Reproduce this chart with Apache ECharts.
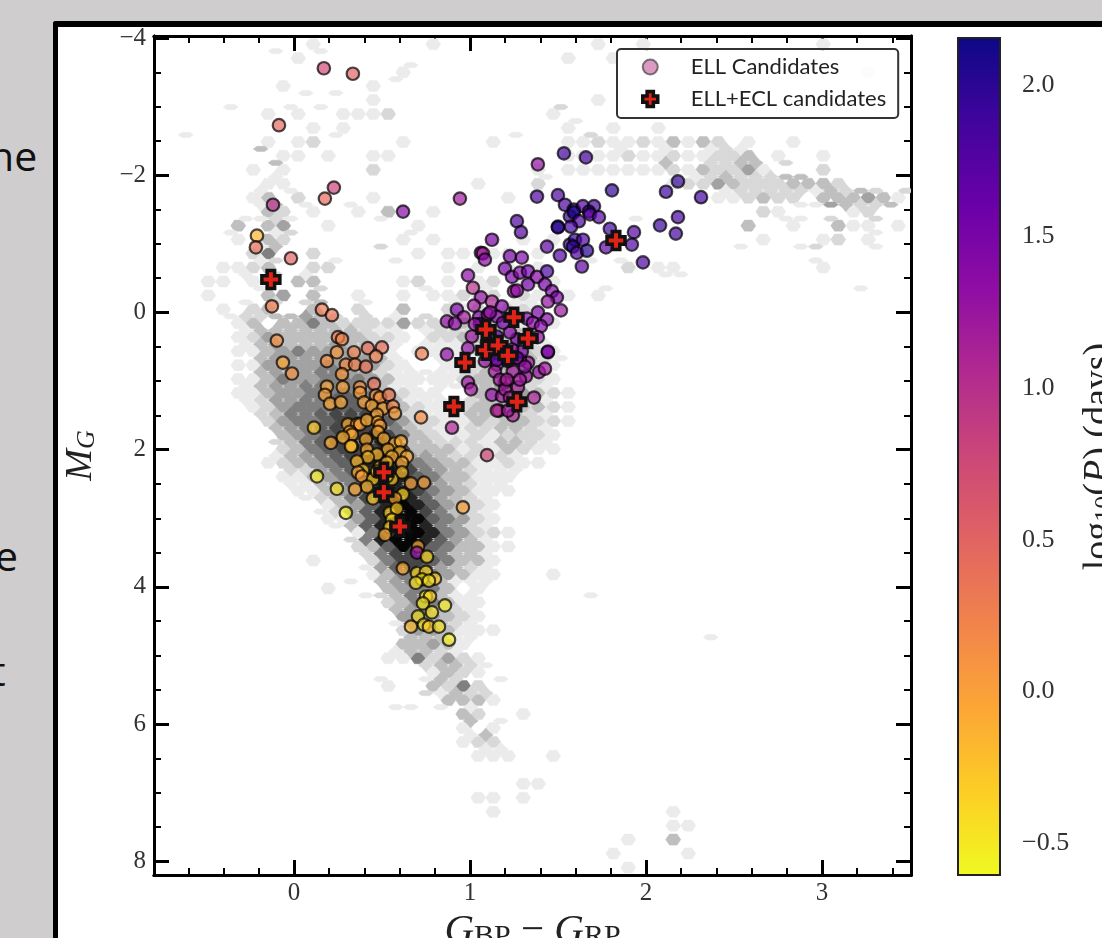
<!DOCTYPE html>
<html><head><meta charset="utf-8">
<style>
html,body{margin:0;padding:0;width:1102px;height:938px;overflow:hidden;background:#cfcdcd;}
#frame{position:absolute;left:53px;top:21px;width:1060px;height:930px;background:#fff;border-left:5px solid #000;border-top:6px solid #000;border-top-left-radius:3px;box-sizing:border-box;}
#main{position:absolute;left:0;top:0;width:1102px;height:938px;filter:blur(0.5px);}
.slide{position:absolute;font-family:"Open Sans",sans-serif;font-size:41px;color:#111;line-height:1;white-space:nowrap;}
</style></head>
<body>
<div id="frame"></div>
<div class="slide" style="left:-11px;top:135px;">ne</div>
<div class="slide" style="left:-5px;top:535px;">e</div>
<div class="slide" style="left:-9px;top:650px;">t</div>
<div id="main"></div>
<script src="https://cdn.jsdelivr.net/npm/echarts@6/dist/echarts.min.js"></script>
<script>
// ---- axis ticks
const xMajorTicks=[0,1,2,3];
const xMinorTicks=[-0.6,-0.4,-0.2,0.2,0.4,0.6,0.8,1.2,1.4,1.6,1.8,2.2,2.4,2.6,2.8,3.2,3.4];
const yMajorTicks=[-4,-2,0,2,4,6,8];
const yMinorTicks=[-3.5,-3,-2.5,-1.5,-1,-0.5,0.5,1,1.5,2.5,3,3.5,4.5,5,5.5,6.5,7,7.5];
const colorbarTicks=[-0.5,0,0.5,1,1.5,2];
// ---- plasma_r stops, low period to high period
const plasmaStops=['#f0f921','#fcce25','#fca636','#f1844b','#e16462','#cc4778','#b12a90','#8f0da4','#6a00a8','#41049d','#0d0887'];
// ---- density background: hexbin lattice, "column:levels" per row (level 1-9)
const hexOrigin=[-0.7426,-3.91];
const hexStep=[0.08523,0.2034];
const hexMainRows=[
"10:1 18:1 29:1 32:1 44:1","9:1 27:1 30:1","16:1 47:1","8:1 14:1","14:1 29:1",
"7:1 9:1 12:1112 26:1","10:1 12:1 27:1 30:1 33:1","7:1 9:12 16:1 22:1 27:11 29:21 31:1213 35:1 36:32 39:1 42:1",
"8:11 11:1 14:11 27:1111 31:2 32:11 34:2112 38:23 41:1 44:1",
"6:1 8:1 14:2 25:1 27:11 29:1 30:1 31:1 32:1 33:1 34:21 36:3224 40:1 44:2",
"7:11 21:1 25:2 34:122432223332",
"6:1 7:3 9:2 14:1 23:1 37:1123220333431",
"7:32 10:1 13:1 15:3 18:1 40:21 46:12",
"5:3 7:34 11:1 17:1 39:3 42:1 45:311 49:1",
"5:1 7:32 16:1 18:1 22:1 24:1 26:1 40:1 44:12 47:1",
"6:25 10:2 17:1 19:11 22:11 25:1 28:1",
"4:11 6:23 10:22 19:1 21:1 23:1 25:1 31:2 33:11 44:1",
"3:11 6:1 9:33 16:12 19:1 21:12 24:11 26:1",
"3:1 7:34 10:3 13:1 16:1 18:11 20:21 22:2 24:21 27:1 29:1",
"4:1 6:23 10:3 13:2 16:3 19:2 20:1 21:2 22:1 23:2 24:2 25:1",
"5:1 6:3033532222422233321 26:1",
"5:1 6:24333343221022332321",
"5:1 6:134544433101111334321",
"5:1 6:144445444210011234321",
"5:1 6:135445554311112333321",
"5:1 6:1344556554211003334321",
"6:1245556665321123333321",
"7:245567766422113233221",
"8:3456778753211212221",
"8:2356777873331213211",
"7:1234567887543311211",
"8:1134568886533111",
"9:113457887543111",
"11:134689864321",
"11:114689965421",
"13:15799854221",
"13:23698653311",
"10:1 14:257765331",
"14:135654311 26:1",
"11:1 15:3455301",
"15:2355311",
"16:454321",
"16:2443111",
"16:33431",
"15:1152421",
"18:1321",
"15:1 18:3252",
"19:3331",
"20:32 24:1",
"20:1 22:1",
"20:122",
"21:111 26:1",
"","24:11","21:11 24:1","22:1 34:1","34:11","31:1 34:3","30:1 35:1","31:1"];
const hexOffsetRows=[
"7:1 10:1","16:1","15:1","9:1 11:1","4:1 8:1 10:1 26:2","27:1","1:1 11:1 23:1 28:2",
"6:3 30:1 33:1 36:1 37:2 38:1",
"7:3 33:3 36:2 37:2 38:3 39:3 41:2",
"7:1 25:1 35:1 36:2 37:3 38:2 39:2 40:2 41:3 42:3",
"6:1 8:1 37:1 38:2 39:2 40:2 41:2 42:2 43:1 44:3 45:2 46:3 47:2 49:2",
"6:1 7:3 9:1 12:1 42:1 43:1 44:4 45:3 46:2 47:2 48:3",
"5:1 6:1 7:2 8:1 14:1 31:1 41:1 42:1 44:2 47:2",
"4:1 7:1 8:2 16:1 47:1",
"6:1 7:3 14:2 38:1 42:1 43:2 47:1",
"6:1 7:2 11:1 15:1 28:1 30:1 43:1",
"5:1 7:2 9:1 33:1 34:1",
"6:1 10:2 17:1 21:1 29:1 46:1",
"5:1 7:2 9:2 10:3 13:1 19:1 23:1 24:1",
"4:12233432 13:2 15:1 17:2 19:2 21:323",
"5:13333333211012223332",
"5:134333433210111233321",
"6:344444443100111333321",
"6:34445544211111233331",
"5:134455554311011234321",
"5:124455665531111233321",
"6:23556777642111333321",
"7:3456777753211223321",
"7:2356778863322213321",
"7:13456788744322221",
"8:2245678875432111",
"8:113457887643211",
"9:1235789864321",
"10:124689975321",
"11:13689985421",
"12:2589986431",
"13:257765331",
"13:146764321",
"12:1 14:34553111",
"13:1 14:2354311 28:1",
"15:345321",
"15:144321",
"16:33311 36:1",
"15:13321",
"17:23321",
"14:1 17:132 22:1",
"17:2 18:1 19:322",
"15:11 18:1 20:1",
"20:3 22:1",
"20:1 21:3",
"21:1 22:1"];
const hexGreys=['#ffffff','#ebebeb','#d8d8d8','#bfbfbf','#a2a2a2','#808080','#626262','#464646','#242424','#060606'];
// ---- ELL candidates: [G_BP-G_RP, M_G, log10 P]
const ellUpper=[[0.17,-3.56,0.75],[0.335,-3.48,0.5],[-0.085,-2.73,0.45],[0.227,-1.82,0.8],[0.176,-1.66,0.45],[-0.119,-1.57,1.0],[0.62,-1.47,1.4],[0.943,-1.66,1.2],[-0.21,-1.12,-0.15],[-0.216,-0.95,0.4],[-0.017,-0.79,0.5],[-0.125,-0.09,0.25],[0.159,-0.04,0.3],[0.216,0.04,0.35]];
const ellGiant=[[1.534,-2.32,1.85],[1.659,-2.26,1.85],[1.386,-2.16,1.3],[1.807,-1.78,1.95],[2.114,-1.76,1.9],[2.182,-1.91,1.95],[2.313,-1.68,1.85],[1.381,-1.69,1.8],[1.5,-1.71,1.8],[1.54,-1.57,1.8],[1.59,-1.5,2.0],[1.642,-1.55,1.75],[1.705,-1.55,1.85],[1.676,-1.47,1.95],[1.568,-1.4,1.9],[1.59,-1.46,2.05],[1.619,-1.33,1.8],[1.682,-1.43,1.7],[1.733,-1.39,1.75],[2.182,-1.39,1.85],[2.08,-1.27,1.9],[2.17,-1.15,1.85],[1.267,-1.33,1.8],[1.29,-1.17,1.75],[1.5,-1.25,2.0],[1.5,-1.24,2.0],[1.574,-1.25,1.85],[1.795,-1.22,1.85],[1.932,-1.17,1.75],[1.92,-0.99,1.8],[1.773,-0.95,1.7],[1.438,-0.96,1.7],[1.568,-0.99,1.9],[1.597,-1.06,1.95],[1.642,-1.06,1.8],[1.585,-0.96,2.0],[1.608,-0.87,1.75],[1.665,-0.9,2.0],[1.511,-0.83,1.75],[1.983,-0.73,1.8],[1.636,-0.67,1.7]];
const ellClump=[[1.125,-1.06,1.45],[1.0625,-0.87,1.3],[1.074,-0.86,1.15],[1.085,-0.77,1.35],[1.227,-0.82,1.5],[1.295,-0.8,1.45],[1.199,-0.64,1.5],[1.239,-0.52,1.5],[1.284,-0.58,1.4],[1.33,-0.6,1.55],[1.381,-0.52,1.35],[1.438,-0.6,1.8],[0.989,-0.54,1.35],[1.017,-0.36,1.0],[1.33,-0.41,1.55],[1.25,-0.31,1.2],[1.267,-0.32,1.35],[1.426,-0.41,1.5],[1.466,-0.31,1.45],[1.494,-0.22,1.5],[1.443,-0.16,1.3],[1.517,-0.03,1.25],[1.0625,-0.22,1.3],[1.125,-0.16,1.1],[1.182,-0.09,1.4],[1.023,-0.1,1.2],[0.926,-0.04,1.5],[0.966,0.07,1.2],[0.869,0.13,1.3],[0.915,0.16,1.35],[1.386,0,1.45],[1.438,0.1,1.4],[1.324,0.09,1.5],[1.358,0.15,1.3],[1.403,0.2,1.4],[1.051,0.07,1.5],[1.102,0.03,1.2],[1.153,0.06,1.4],[0.989,0.52,1.3],[0.869,0.61,1.35],[1.011,0.35,1.25],[1.057,0.17,1.5],[1.114,0,1.35],[1.443,0.58,1.6],[1.443,0.57,1.4],[1.386,0.36,1.3],[0.989,1.02,1.25],[1.006,1.12,1.2],[1.125,1.2,1.3],[1.364,1.24,1.15],[1.392,0.87,1.3],[1.426,0.82,1.2],[1.182,1.22,1.2],[1.165,1.43,0.9],[1.153,1.43,1.1],[1.244,1.5,1.1],[0.898,1.68,1.1],[1.216,1.43,1.2],[1.199,1.02,1.25],[1.273,1.09,1.15],[1.318,0.93,1.25],[1.33,0.73,1.2],[1.284,0.69,1.2],[1.244,0.86,1.2],[1.153,0.76,1.25],[1.142,0.86,1.2],[1.17,0.98,1.2],[1.199,1.12,1.2],[1.267,0.39,1.5],[1.295,0.57,1.5],[1.227,0.29,1.4],[1.188,0.15,1.55],[1.153,0.35,1.6],[1.125,0.57,1.6],[1.085,0.71,1.3],[1.216,0.71,1.9],[1.153,0.69,1.7],[1.267,0.66,1.6],[1.028,0.17,1.3],[1.097,0.44,1.6],[1.239,0.54,1.3],[1.313,0.79,1.3],[1.21,0.98,1.15],[1.284,0.98,1.2],[1.227,1.24,1.1],[1.097,2.08,0.75]];
const ellTurnoff=[[-0.097,0.41,0.1],[0.25,0.36,0.3],[0.273,0.39,0.2],[0.244,0.58,0.05],[0.341,0.58,0.25],[0.42,0.52,0.4],[0.5,0.51,0.4],[0.727,0.6,0.3],[0.1875,0.71,0.1],[0.295,0.76,0.2],[0.347,0.76,0.25],[0.409,0.79,0.35],[0.466,0.64,0.25],[-0.0625,0.73,-0.05],[-0.011,0.89,0.1],[0.273,0.9,0.05],[0.455,1.04,0.4],[0.1875,1.08,-0.05],[0.278,1.09,0],[0.375,1.09,0.15],[0.375,1.17,0],[0.176,1.2,0],[0.205,1.33,-0.05],[0.267,1.31,-0.05],[0.466,1.21,0.1],[0.489,1.24,0.1],[0.54,1.2,0.3],[0.398,1.31,0],[0.443,1.36,-0.05],[0.506,1.4,-0.05],[0.5625,1.37,0.2],[0.574,1.47,0],[0.472,1.49,-0.05],[0.722,1.53,0.15],[0.96,2.84,0]];
const ellMainSeq=[[0.114,1.68,-0.3],[0.21,1.9,-0.05],[0.307,1.63,-0.1],[0.358,1.63,0],[0.375,1.63,0],[0.415,1.57,-0.1],[0.477,1.6,-0.05],[0.489,1.65,0],[0.477,1.74,-0.1],[0.318,1.74,-0.1],[0.33,1.78,-0.05],[0.278,1.82,-0.15],[0.33,1.95,-0.25],[0.324,1.95,-0.2],[0.409,1.85,-0.1],[0.415,2.0,-0.1],[0.511,1.84,-0.1],[0.574,1.91,-0.1],[0.608,1.88,-0.1],[0.534,2.0,-0.15],[0.602,2.04,-0.15],[0.642,2.1,-0.1],[0.557,2.1,-0.1],[0.472,2.07,-0.2],[0.42,2.11,-0.2],[0.358,2.17,-0.2],[0.614,2.19,-0.05],[0.392,2.3,-0.25],[0.364,2.33,-0.1],[0.386,2.39,0],[0.614,2.33,-0.2],[0.449,2.43,-0.3],[0.415,2.54,-0.15],[0.557,2.43,-0.3],[0.665,2.49,0],[0.739,2.48,0],[0.131,2.39,-0.5],[0.244,2.57,-0.45],[0.347,2.58,-0.05],[0.449,2.71,-0.3],[0.619,2.65,-0.35],[0.574,2.71,-0.05],[0.295,2.92,-0.55],[0.545,2.92,-0.35],[0.585,2.86,-0.3],[0.557,3.02,-0.35],[0.545,3.13,-0.35],[0.517,3.24,-0.1],[0.489,2.25,-0.2],[0.528,2.19,-0.2],[0.472,2.32,-0.3],[0.528,2.39,-0.3]];
const ellLower=[[0.705,3.41,-0.1],[0.699,3.5,1.3],[0.756,3.56,-0.4],[0.619,3.73,-0.1],[0.699,3.8,-0.4],[0.75,3.78,-0.4],[0.727,3.89,-0.4],[0.801,3.88,-0.3],[0.693,3.94,-0.45],[0.767,3.91,-0.45],[0.75,4.14,-0.5],[0.773,4.14,-0.35],[0.733,4.24,-0.5],[0.858,4.27,-0.5],[0.784,4.37,-0.45],[0.705,4.43,-0.45],[0.665,4.58,-0.2],[0.739,4.55,-0.45],[0.767,4.58,-0.3],[0.824,4.58,-0.45],[0.881,4.77,-0.55]];
// ---- ELL+ECL candidates: [G_BP-G_RP, M_G]
const ellEclCandidates=[[-0.131,-0.48],[1.83,-1.05],[1.091,0.25],[1.25,0.07],[1.33,0.38],[1.091,0.55],[1.159,0.48],[1.216,0.63],[0.972,0.73],[1.267,1.3],[0.909,1.37],[0.511,2.33],[0.511,2.62],[0.602,3.12]];

// ---- decode lattice rows
function parseRow(s){const out=[];if(!s)return out;s.split(' ').forEach(seg=>{const p=seg.split(':');const c=+p[0];[...p[1]].forEach((d,n)=>{if(+d>0)out.push([c+n,+d]);});});return out;}
const mainKeys=new Set();const hexData=[];
hexMainRows.forEach((s,r)=>parseRow(s).forEach(([c,l])=>{mainKeys.add(c+'_'+r);hexData.push([hexOrigin[0]+c*hexStep[0],hexOrigin[1]+r*hexStep[1],l,0]);}));
hexOffsetRows.forEach((s,r)=>parseRow(s).forEach(([c,l])=>{
  const n=['_'+r,'_'+(r+1)].reduce((a,t)=>a+(mainKeys.has(c+t)?1:0)+(mainKeys.has((c+1)+t)?1:0),0);
  hexData.push([hexOrigin[0]+(c+0.5)*hexStep[0],hexOrigin[1]+(r+0.5)*hexStep[1],l,n>=3?2:1]);
}));
function hexShape(kind,sx,sy){
  if(kind===0)return [[-.5*sx,0],[-.25*sx,-.395*sy],[.25*sx,-.395*sy],[.5*sx,0],[.25*sx,.395*sy],[-.25*sx,.395*sy]];
  if(kind===1)return [[-.5*sx,0],[-.25*sx,-.19*sy],[.25*sx,-.19*sy],[.5*sx,0],[.25*sx,.19*sy],[-.25*sx,.19*sy]];
  return [[-.5*sx,0],[-.25*sx,-.19*sy],[0,-.5*sy],[.25*sx,-.19*sy],[.5*sx,0],[.25*sx,.19*sy],[0,.5*sy],[-.25*sx,.19*sy]];
}
const SERIF='"Liberation Serif",serif';
const SANS='Lato,"Open Sans",sans-serif';
const plusPath='path://M3.5,0H8.5V3.5H12V8.5H8.5V12H3.5V8.5H0V3.5H3.5Z';
const minus=v=>String(v).replace('-','\u2212');
const chart=echarts.init(document.getElementById('main'),null,{renderer:'canvas',width:1102,height:938});
function xAxis(pos,vals,len,lw,labels,name){return {type:'value',gridIndex:0,position:pos,min:-0.795,max:3.506,
  splitLine:{show:false},axisLine:{show:true,onZero:false,lineStyle:{color:'#000',width:3}},
  axisTick:{show:true,inside:true,length:len,customValues:vals,lineStyle:{color:'#000',width:lw}},
  axisLabel:labels?{show:true,customValues:xMajorTicks,margin:6,fontFamily:SERIF,fontSize:25,color:'#333',formatter:minus}:{show:false},
  ...(name||{})};}
function yAxis(pos,vals,len,lw,labels,name){return {type:'value',gridIndex:0,position:pos,inverse:true,min:-4.03,max:8.2,
  splitLine:{show:false},axisLine:{show:true,onZero:false,lineStyle:{color:'#000',width:3}},
  axisTick:{show:true,inside:true,length:len,customValues:vals,lineStyle:{color:'#000',width:lw}},
  axisLabel:labels?{show:true,customValues:yMajorTicks,margin:8,fontFamily:SERIF,fontSize:25,color:'#333',formatter:minus}:{show:false},
  ...(name||{})};}
const allEll=[].concat(ellUpper,ellGiant,ellClump,ellTurnoff,ellMainSeq,ellLower);
chart.setOption({
  animation:false,backgroundColor:'transparent',
  grid:[{left:154,top:36,width:757,height:839,outerBoundsMode:'none'},{left:958,top:38,width:42,height:837,outerBoundsMode:'none'}],
  xAxis:[
    xAxis('bottom',xMajorTicks,15,3,true,{name:'{i|G}{s|BP}{o| \u2212 }{i|G}{s|RP}',nameLocation:'middle',nameGap:30,
      nameTextStyle:{rich:{i:{fontFamily:SERIF,fontStyle:'italic',fontSize:41,color:'#222'},s:{fontFamily:SERIF,fontSize:30,color:'#222',verticalAlign:'bottom',padding:[12,0,0,0]},o:{fontFamily:SERIF,fontSize:41,color:'#222'}}}}),
    xAxis('bottom',xMinorTicks,7,2,false),
    xAxis('top',xMajorTicks,15,3,false),
    xAxis('top',xMinorTicks,7,2,false),
    {type:'value',gridIndex:1,min:0,max:1,show:false}
  ],
  yAxis:[
    yAxis('left',yMajorTicks,15,3,true,{name:'{i|M}{s|G}',nameLocation:'middle',nameGap:68,nameRotate:90,
      nameTextStyle:{padding:[0,0,-14,0],rich:{i:{fontFamily:SERIF,fontStyle:'italic',fontSize:38,color:'#222'},s:{fontFamily:SERIF,fontStyle:'italic',fontSize:26,color:'#222',padding:[12,0,0,0]}}}}),
    yAxis('left',yMinorTicks,7,2,false),
    yAxis('right',yMajorTicks,15,3,false),
    yAxis('right',yMinorTicks,7,2,false),
    {type:'value',gridIndex:1,position:'right',min:-0.605,max:2.155,splitLine:{show:false},
      axisLine:{show:false},
      axisTick:{show:true,inside:false,length:15,customValues:colorbarTicks,lineStyle:{color:'#000',width:3}},
      axisLabel:{show:true,customValues:colorbarTicks,margin:22,fontFamily:SERIF,fontSize:26,color:'#333',formatter:v=>minus(Number(v).toFixed(1))},
      name:'{n|log}{s|10}{n|(}{i|P}{n|) (days)}',nameLocation:'middle',nameRotate:90,nameGap:80,nameMoveOverlap:false,
      nameTextStyle:{rich:{n:{fontFamily:SERIF,fontSize:38,color:'#222'},i:{fontFamily:SERIF,fontStyle:'italic',fontSize:38,color:'#222'},s:{fontFamily:SERIF,fontSize:26,color:'#222',padding:[12,0,0,0]}}}}
  ],
  visualMap:{show:false,type:'continuous',seriesIndex:1,dimension:2,min:-0.605,max:2.155,inRange:{color:plasmaStops}},
  legend:{left:617,top:49,orient:'vertical',selectedMode:false,itemGap:10,itemWidth:15,itemHeight:15,
    padding:[7,12,8,24],backgroundColor:'rgba(255,255,255,0.85)',borderColor:'#333',borderWidth:2,borderRadius:4,
    textStyle:{fontFamily:SANS,fontSize:22,color:'#222',padding:[0,0,0,28]},
    data:[{name:'ELL Candidates',icon:'circle',itemStyle:{color:'#cc6fa8',borderColor:'#444',borderWidth:2}},
          {name:'ELL+ECL candidates',icon:plusPath,itemStyle:{color:'#e02316',borderColor:'#111',borderWidth:3.5}}]},
  series:[
    {type:'custom',name:'density',xAxisIndex:0,yAxisIndex:0,clip:true,silent:true,z:1,data:hexData,encode:{x:0,y:1},
      renderItem:(p,api)=>{const c=api.coord([api.value(0),api.value(1)]);const s=api.size(hexStep);
        const g=hexGreys[api.value(2)];
        return {type:'polygon',shape:{points:hexShape(api.value(3),s[0],s[1]).map(q=>[c[0]+q[0],c[1]+q[1]])},style:{fill:g,stroke:g,lineWidth:0.5}};}},
    {type:'scatter',name:'ELL Candidates',xAxisIndex:0,yAxisIndex:0,z:3,symbol:'circle',symbolSize:12.5,data:allEll,encode:{x:0,y:1},
      itemStyle:{opacity:0.7,borderColor:'#000',borderWidth:2.2}},
    {type:'scatter',name:'ELL+ECL candidates',xAxisIndex:0,yAxisIndex:0,z:4,symbol:plusPath,symbolSize:18,data:ellEclCandidates,
      itemStyle:{color:'#e02316',borderColor:'#111',borderWidth:3.5,opacity:1}},
    {type:'custom',name:'colorbar',xAxisIndex:4,yAxisIndex:4,z:2,silent:true,data:[[0,-0.605],[1,2.155]],encode:{x:0,y:1},
      renderItem:(p,api)=>{ if(p.dataIndex!==0) return null;
        const a=api.coord([0,-0.605]),b=api.coord([1,2.155]);
        return {type:'rect',shape:{x:a[0],y:b[1],width:b[0]-a[0],height:a[1]-b[1]},
          style:{fill:new echarts.graphic.LinearGradient(0,1,0,0,plasmaStops.map((c,i)=>({offset:i/(plasmaStops.length-1),color:c}))),stroke:'#222',lineWidth:2}};}}
  ]
});
</script>
</body></html>
